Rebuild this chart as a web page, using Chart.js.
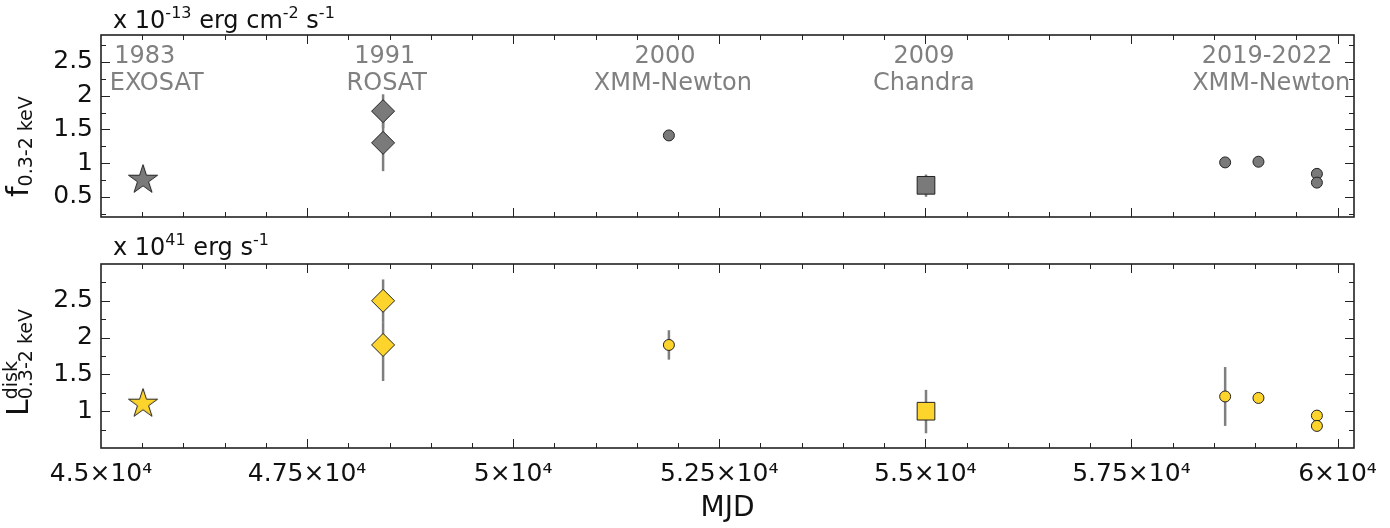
<!DOCTYPE html>
<html>
<head>
<meta charset="utf-8">
<script src="https://cdn.jsdelivr.net/npm/chart.js@4/dist/chart.umd.min.js"></script>
<style>
  body { margin: 0; background: #fff; }
  .panel { position: absolute; left: 0; width: 1390px; }
</style>
</head>
<body>
<div class="panel" style="top:0;height:240px"><canvas id="fluxChart"></canvas></div>
<div class="panel" style="top:225px;height:303px"><canvas id="lumChart"></canvas></div>
<script>
// epochs (MJD) and marker used for each observation
var mjd = [45510, 48422, 48422, 51889, 55008, 58637, 59041, 59750, 59750];
var markers = ['star', 'diamond', 'diamond', 'circle', 'square', 'circle', 'circle', 'circle', 'circle'];

// 0.3-2 keV flux, in 1e-13 erg cm^-2 s^-1
var flux = [0.75, 1.77, 1.30, 1.41, 0.67, 1.01, 1.02, 0.84, 0.71];
var fluxLo = [null, 1.52, 0.88, null, 0.50, null, null, null, null];
var fluxHi = [null, 2.02, 1.72, null, 0.83, null, null, null, null];

// 0.3-2 keV disk luminosity, in 1e41 erg s^-1
var lum = [1.10, 2.50, 1.90, 1.90, 1.00, 1.20, 1.18, 0.94, 0.80];
var lumLo = [null, 2.20, 1.41, 1.70, 0.70, 0.80, null, null, null];
var lumHi = [null, 2.79, 2.20, 2.10, 1.29, 1.60, null, null, null];

// mission labels on the top panel (year line, name line)
var labelYears = ['1983', '1991', '2000', '2009', '2019-2022'];
var labelNames = ['EXOSAT', 'ROSAT', 'XMM-Newton', 'Chandra', 'XMM-Newton'];
var yearMjd = [45530, 48443, 51841, 54983, 59147];
var nameMjd = [45676, 48467, 51938, 54983, 59196];

var FONT = '"DejaVu Sans", sans-serif';
var INK = '#222';

function starImage(fill) {
  var c = document.createElement('canvas');
  c.width = 34; c.height = 34;
  var g = c.getContext('2d');
  var R = 15.3, r = R * 0.382;
  g.beginPath();
  for (var i = 0; i < 10; i++) {
    var rad = i % 2 ? r : R;
    var a = -Math.PI / 2 + i * Math.PI / 5;
    g.lineTo(17 + rad * Math.cos(a), 17 + rad * Math.sin(a));
  }
  g.closePath();
  g.fillStyle = fill;
  g.fill();
  g.lineWidth = 1;
  g.strokeStyle = INK;
  g.stroke();
  return c;
}

function pointStyles(fill) {
  var star = starImage(fill);
  return markers.map(function (m) {
    if (m == 'star') return star;
    if (m == 'diamond') return 'rectRot';
    if (m == 'square') return 'rect';
    return 'circle';
  });
}
var radii = markers.map(function (m) {
  return { star: 15, diamond: 11.5, square: 12.5, circle: 5.5 }[m];
});

// evenly spaced ticks, chart.js would otherwise stretch the step to fit min/max
function fixedTicks(step) {
  return function (scale) {
    var t = [];
    var v = Math.ceil(scale.min / step - 1e-9) * step;
    for (; v <= scale.max + 1e-9; v += step) t.push({ value: Math.round(v * 1000) / 1000 });
    scale.ticks = t;
  };
}

// text with super/subscripts: [text, size, dy, noAdvance]
function drawRich(ctx, parts, x, y) {
  parts.forEach(function (p) {
    ctx.font = p[1] + 'px ' + FONT;
    ctx.fillText(p[0], x, y + p[2]);
    if (!p[3]) x += ctx.measureText(p[0]).width;
  });
}

// frame, inward ticks, error bars and text
var decor = {
  id: 'decor',
  beforeDatasetsDraw: function (chart) {
    var o = chart.options.plugins.decor;
    var ctx = chart.ctx, xs = chart.scales.x, ys = chart.scales.y;
    ctx.save();
    ctx.strokeStyle = '#7f7f7f';
    ctx.lineWidth = 2.5;
    for (var i = 0; i < mjd.length; i++) {
      if (o.lo[i] == null) continue;
      var px = xs.getPixelForValue(mjd[i]);
      ctx.beginPath();
      ctx.moveTo(px, ys.getPixelForValue(o.lo[i]));
      ctx.lineTo(px, ys.getPixelForValue(o.hi[i]));
      ctx.stroke();
    }
    ctx.restore();
  },
  afterDraw: function (chart) {
    var o = chart.options.plugins.decor;
    var ctx = chart.ctx, a = chart.chartArea;
    var xs = chart.scales.x, ys = chart.scales.y;
    ctx.save();
    ctx.strokeStyle = INK;
    ctx.lineWidth = 1;
    xs.ticks.forEach(function (t) {
      var px = Math.round(xs.getPixelForValue(t.value)) + 0.5;
      if (px < a.left + 1 || px > a.right - 1) return;
      var len = t.value % 2500 === 0 ? 9 : 5;
      ctx.beginPath();
      ctx.moveTo(px, a.bottom); ctx.lineTo(px, a.bottom - len);
      ctx.moveTo(px, a.top); ctx.lineTo(px, a.top + len);
      ctx.stroke();
    });
    ys.ticks.forEach(function (t) {
      var py = Math.round(ys.getPixelForValue(t.value)) + 0.5;
      if (py < a.top + 1 || py > a.bottom - 1) return;
      var len = Math.abs(t.value * 2 - Math.round(t.value * 2)) < 1e-6 ? 9 : 5;
      ctx.beginPath();
      ctx.moveTo(a.left, py); ctx.lineTo(a.left + len, py);
      ctx.moveTo(a.right, py); ctx.lineTo(a.right - len, py);
      ctx.stroke();
    });
    ctx.lineWidth = 1.6;
    ctx.strokeRect(a.left, a.top, a.right - a.left, a.bottom - a.top);

    ctx.fillStyle = '#111';
    ctx.textBaseline = 'alphabetic';
    ctx.textAlign = 'left';
    drawRich(ctx, o.header, 113, o.headerY);

    ctx.save();
    ctx.translate(o.titleX, o.titleY);
    ctx.rotate(-Math.PI / 2);
    drawRich(ctx, o.title, 0, 0);
    ctx.restore();

    if (o.labels) {
      ctx.fillStyle = '#808080';
      ctx.textAlign = 'center';
      ctx.font = '24px ' + FONT;
      for (var i = 0; i < labelYears.length; i++) {
        ctx.fillText(labelYears[i], xs.getPixelForValue(yearMjd[i]), 63);
        ctx.fillText(labelNames[i], xs.getPixelForValue(nameMjd[i]), 90);
      }
    }
    ctx.restore();
  }
};

function yTickLabel(min, max) {
  return function (v) {
    if (Math.abs(v * 2 - Math.round(v * 2)) > 1e-6) return '';
    if (v <= min + 1e-6 || v >= max - 1e-6) return '';
    return String(v);
  };
}

function makeChart(id, values, lo, hi, fill, yMin, yMax, bottomAxis, pad, extra) {
  var pts = mjd.map(function (x, i) { return { x: x, y: values[i] }; });
  var plugOpts = Object.assign({ lo: lo, hi: hi }, extra);
  return new Chart(document.getElementById(id), {
    type: 'scatter',
    data: {
      datasets: [{
        data: pts,
        pointStyle: pointStyles(fill),
        pointRadius: radii,
        backgroundColor: fill,
        borderColor: INK,
        borderWidth: 1,
        clip: false
      }]
    },
    options: {
      responsive: true,
      maintainAspectRatio: false,
      animation: false,
      events: [],
      layout: { padding: pad },
      plugins: { legend: { display: false }, tooltip: { enabled: false }, decor: plugOpts },
      scales: {
        x: {
          type: 'linear',
          min: 45000,
          max: 60200,
          grid: { display: false, drawTicks: false },
          border: { display: false },
          afterBuildTicks: fixedTicks(500),
          ticks: {
            display: bottomAxis,
            autoSkip: false,
            maxRotation: 0,
            padding: 11,
            color: '#111',
            font: { family: FONT, size: 25 },
            callback: function (v) {
              if (v % 2500 !== 0) return '';
              return String(v / 1e4) + '\u00d710\u2074';
            }
          },
          title: {
            display: bottomAxis,
            text: 'MJD',
            color: '#111',
            font: { family: FONT, size: 28 },
            padding: { top: 4, bottom: 2 }
          },
          afterFit: function (s) { s.height = bottomAxis ? 80 : 0; }
        },
        y: {
          min: yMin,
          max: yMax,
          grid: { display: false, drawTicks: false },
          border: { display: false },
          afterBuildTicks: fixedTicks(0.25),
          ticks: {
            autoSkip: false,
            padding: 8,
            color: '#111',
            font: { family: FONT, size: 25 },
            callback: yTickLabel(yMin, yMax)
          },
          afterFit: function (s) { s.width = 101; }
        }
      }
    },
    plugins: [decor]
  });
}

makeChart('fluxChart', flux, fluxLo, fluxHi, '#7a7a7a', 0.2, 2.9, false,
  { left: 0, top: 35, right: 36, bottom: 22 },
  {
    labels: true,
    headerY: 28,
    header: [['x 10', 24, 0], ['-13', 16, -10], [' erg cm', 24, 0], ['-2', 16, -10], [' s', 24, 0], ['-1', 16, -10]],
    titleX: 28, titleY: 197,
    title: [['f', 30, 0], ['0.3-2 keV', 19, 4]]
  });

// bottom canvas starts at y=225 on the page
makeChart('lumChart', lum, lumLo, lumHi, '#fcd42c', 0.5, 3.0, true,
  { left: 0, top: 39, right: 36, bottom: 0 },
  {
    labels: false,
    headerY: 30,
    header: [['x 10', 24, 0], ['41', 16, -10], [' erg s', 24, 0], ['-1', 16, -10]],
    titleX: 28, titleY: 191,
    title: [['L', 30, 0], ['disk', 19, -11, true], ['0.3-2 keV', 19, 4]]
  });
</script>
</body>
</html>
